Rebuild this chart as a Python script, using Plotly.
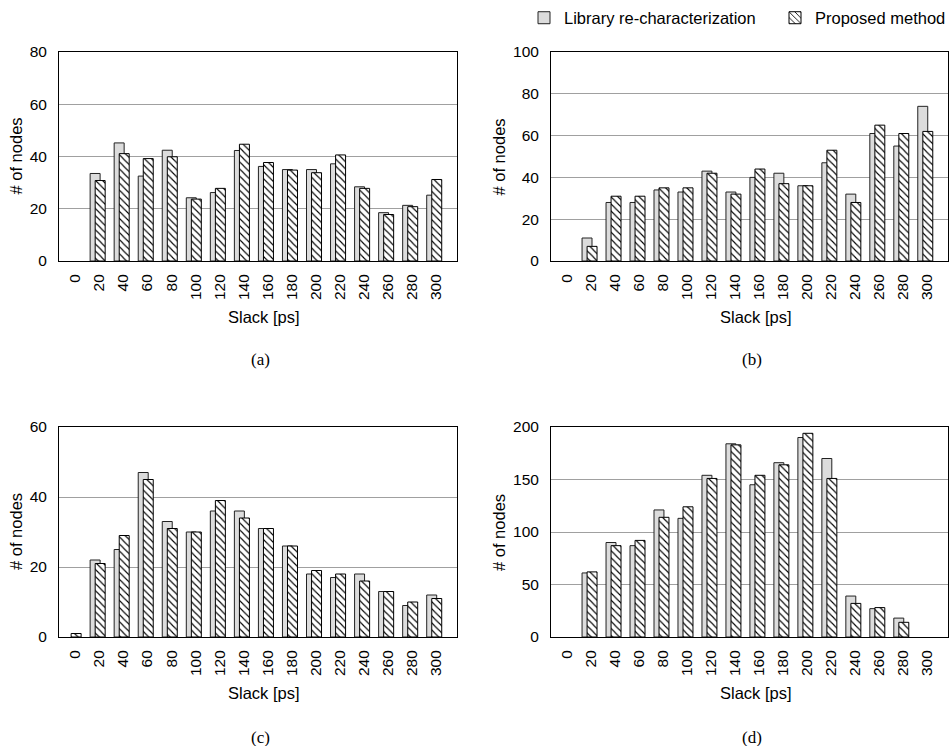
import plotly.graph_objects as go

slack = [0, 20, 40, 60, 80, 100, 120, 140, 160, 180, 200, 220, 240, 260, 280, 300]
slack_labels = [str(s) for s in slack]

lib_a = [0, 33.5, 45.2, 32.5, 42.4, 24.2, 26.2, 42.3, 36.2, 35.0, 35.0, 37.2, 28.4, 18.5, 21.3, 25.2]
prop_a = [0, 30.8, 41.1, 39.2, 39.9, 23.7, 27.8, 44.7, 37.7, 34.8, 33.8, 40.6, 27.8, 17.8, 20.8, 31.2]

lib_b = [0, 11, 28, 28, 34, 33, 43, 33, 40, 42, 36, 47, 32, 61, 55, 74]
prop_b = [0, 7, 31, 31, 35, 35, 42, 32, 44, 37, 36, 53, 28, 65, 61, 62]

lib_c = [0, 22, 25, 47, 33, 30, 36, 36, 31, 26, 18, 17, 18, 13, 9, 12]
prop_c = [1, 21, 29, 45, 31, 30, 39, 34, 31, 26, 19, 18, 16, 13, 10, 11]

lib_d = [0, 61, 90, 87, 121, 113, 154, 184, 145, 166, 190, 170, 39, 27, 18, 0]
prop_d = [0, 62, 87, 92, 114, 124, 151, 183, 154, 164, 194, 151, 32, 28, 14, 0]

y_ranges = [80, 100, 60, 200]
y_dtick = [20, 20, 20, 50]
captions = ["(a)", "(b)", "(c)", "(d)"]

W, H = 951, 746
FONT = "Liberation Sans, Arial, Helvetica, sans-serif"


def px(x):
    return x / W


def py(y):
    return 1 - y / H


# panel frames in page pixels: (left, right, top, bottom, caption_y)
frames = [(59, 457, 52, 261, 359), (551, 948, 52, 261, 359),
          (59, 457, 427, 637, 737), (551, 948, 427, 637, 737)]

fig = go.Figure()


def nz(vals):
    return [v if v else None for v in vals]


datasets = [(lib_a, prop_a), (lib_b, prop_b), (lib_c, prop_c), (lib_d, prop_d)]
for i, (lib, prop) in enumerate(datasets):
    sfx = "" if i == 0 else str(i + 1)
    fig.add_trace(go.Bar(
        x=slack, y=nz(lib), name="Library re-characterization",
        xaxis="x" + sfx, yaxis="y" + sfx,
        marker=dict(color="#dcdcdc", line=dict(color="#222222", width=1)),
        width=8.3, offset=-7.7, showlegend=(i == 0), legend="legend",
    ))
    fig.add_trace(go.Bar(
        x=slack, y=nz(prop), name="Proposed method",
        xaxis="x" + sfx, yaxis="y" + sfx,
        marker=dict(color="white", line=dict(color="black", width=1),
                    pattern=dict(shape="\\", fgcolor="black", bgcolor="white",
                                 size=5, solidity=0.22)),
        width=8.3, offset=-3.5, showlegend=(i == 0), legend="legend2",
    ))

leg_common = dict(orientation="h", yanchor="middle", y=py(18),
                  font=dict(size=16.5), itemwidth=30, bgcolor="rgba(0,0,0,0)",
                  borderwidth=0)

layout = dict(
    template="none",
    width=W, height=H,
    margin=dict(l=0, r=0, t=0, b=0, autoexpand=False),
    paper_bgcolor="white", plot_bgcolor="white",
    barmode="overlay",
    font=dict(family=FONT, size=16, color="black"),
    legend=dict(x=px(544 - 20), xanchor="left", **leg_common),
    legend2=dict(x=1.0, xanchor="right", **leg_common),
)

annotations = []
for i, (l, r, t, b, cy) in enumerate(frames):
    sfx = "" if i == 0 else str(i + 1)
    layout["xaxis" + sfx] = dict(
        domain=[px(l), px(r)], anchor="y" + sfx,
        range=[-13.6, 317.5], tickvals=slack, ticktext=slack_labels,
        tickangle=-90, ticks="", ticklabelstandoff=6,
        tickfont=dict(size=15.5, color="black"),
        showgrid=False, zeroline=False, automargin=False,
        showline=True, linecolor="black", linewidth=1, mirror=True,
        fixedrange=True,
    )
    layout["yaxis" + sfx] = dict(
        domain=[py(b), py(t)], anchor="x" + sfx,
        range=[0, y_ranges[i]], dtick=y_dtick[i], tick0=0,
        ticks="", ticklabelstandoff=8, tickfont=dict(size=15.5, color="black"),
        showgrid=True, gridcolor="#a0a0a0", gridwidth=1,
        zeroline=False, automargin=False,
        showline=True, linecolor="black", linewidth=1, mirror=True,
        fixedrange=True,
    )
    cx = (l + r) / 2
    annotations.append(dict(text="Slack [ps]", x=px(cx + 6), y=py(b + 56),
                            xref="paper", yref="paper", showarrow=False,
                            xanchor="center", yanchor="middle", font=dict(size=16.5)))
    ytx = 16 if i in (0, 2) else 499
    annotations.append(dict(text="# of nodes", x=px(ytx), y=py((t + b) / 2),
                            xref="paper", yref="paper", showarrow=False, textangle=-90,
                            xanchor="center", yanchor="middle", font=dict(size=16.5)))
    annotations.append(dict(text=captions[i], x=px(cx + 2), y=py(cy),
                            xref="paper", yref="paper", showarrow=False,
                            xanchor="center", yanchor="middle",
                            font=dict(family="Liberation Serif, DejaVu Serif, serif", size=17)))

layout["annotations"] = annotations
fig.update_layout(**layout)

fig.write_html(
    "out.html",
    config={"displayModeBar": False, "staticPlot": True},
    post_script="document.body.style.margin='0';document.body.style.overflow='hidden';",
)
